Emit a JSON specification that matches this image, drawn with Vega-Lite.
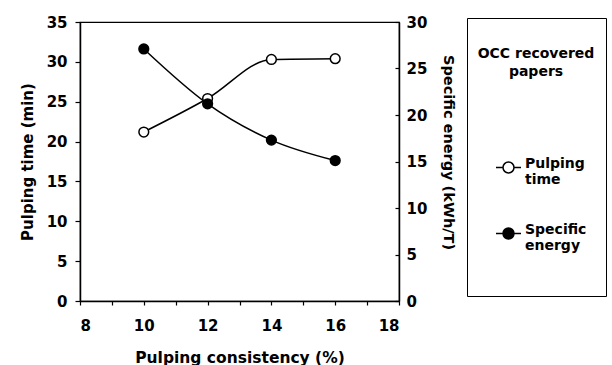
{
  "$schema": "https://vega.github.io/schema/vega-lite/v6.json",
  "width": 319,
  "height": 279,
  "autosize": "none",
  "padding": {"left": 80, "top": 22, "right": 213, "bottom": 64},
  "background": "white",
  "config": {
    "view": {"stroke": "black", "strokeWidth": 1.2},
    "font": "DejaVu Sans",
    "axis": {
      "grid": false,
      "domainColor": "black",
      "domainWidth": 1.5,
      "tickColor": "black",
      "tickWidth": 1.2,
      "labelColor": "black",
      "titleColor": "black",
      "labelFont": "DejaVu Sans",
      "titleFont": "DejaVu Sans",
      "labelFontWeight": "bold",
      "titleFontWeight": "bold",
      "labelFontSize": 15,
      "titleFontSize": 15
    }
  },
  "data": {
    "values": [
      {"consistency": 10, "time": 21.2, "energy": 27.1},
      {"consistency": 12, "time": 25.4, "energy": 21.2},
      {"consistency": 14, "time": 30.3, "energy": 17.3},
      {"consistency": 16, "time": 30.4, "energy": 15.1}
    ]
  },
  "encoding": {
    "x": {
      "field": "consistency",
      "type": "quantitative",
      "scale": {"domain": [8, 18], "nice": false, "zero": false},
      "axis": {
        "title": "Pulping consistency (%)",
        "titleFontSize": 15.5,
        "values": [8, 9, 10, 11, 12, 13, 14, 15, 16, 17, 18],
        "labelExpr": "datum.value % 2 == 0 ? datum.label : ''",
        "tickSize": 4,
        "labelPadding": 13,
        "titlePadding": 17
      }
    }
  },
  "layer": [
    {
      "encoding": {
        "y": {
          "field": "time",
          "type": "quantitative",
          "scale": {"domain": [0, 35], "nice": false},
          "axis": {
            "orient": "left",
            "title": "Pulping time (min)",
            "values": [0, 5, 10, 15, 20, 25, 30, 35],
            "tickSize": 5,
            "labelPadding": 8,
            "titlePadding": 11
          }
        }
      },
      "layer": [
        {"mark": {"type": "line", "color": "black", "strokeWidth": 1.5, "interpolate": "monotone"}},
        {
          "mark": {"type": "point", "shape": "circle", "filled": true, "stroke": "black", "strokeWidth": 1.5, "size": 95, "opacity": 1},
          "encoding": {
            "fill": {
              "datum": "Pulping time",
              "type": "nominal",
              "scale": {"domain": ["Pulping time", "Specific energy"], "range": ["white", "black"]},
              "legend": {
                "orient": "none",
                "legendX": 387,
                "legendY": -4,
                "title": ["", "OCC recovered", "papers"],
                "titleFont": "DejaVu Sans",
                "titleFontSize": 14,
                "titleFontWeight": "bold",
                "titleColor": "black",
                "titleAnchor": "middle",
                "titleAlign": "center",
                "titleLineHeight": 18,
                "titlePadding": 75,
                "padding": 11,
                "strokeColor": "black",
                "fillColor": "white",
                "labelFont": "DejaVu Sans",
                "labelFontSize": 14,
                "labelFontWeight": "bold",
                "labelColor": "black",
                "labelBaseline": "alphabetic",
                "labelOffset": 3,
                "labelExpr": "datum.label == 'Pulping time' ? ['Pulping', 'time', '', ''] : ['Specific', 'energy', '', '']",
                "symbolType": "M-1,0H-0.44M0.44,0H1M0.44,0A0.44,0.44,0,1,1,-0.44,0A0.44,0.44,0,1,1,0.44,0Z",
                "symbolSize": 625,
                "symbolStrokeColor": "black",
                "symbolStrokeWidth": 1.5,
                "symbolOffset": 9,
                "rowPadding": 1
              }
            }
          }
        }
      ]
    },
    {
      "encoding": {
        "y": {
          "field": "energy",
          "type": "quantitative",
          "scale": {"domain": [0, 30], "nice": false},
          "axis": {
            "orient": "right",
            "title": "Specific energy (kWh/T)",
            "titleFontSize": 14.5,
            "titleY": 130,
            "values": [0, 5, 10, 15, 20, 25, 30],
            "tickSize": -4,
            "labelPadding": 11,
            "titlePadding": 14
          }
        }
      },
      "layer": [
        {"mark": {"type": "line", "color": "black", "strokeWidth": 1.5, "interpolate": "monotone"}},
        {
          "mark": {"type": "point", "shape": "circle", "filled": true, "stroke": "black", "strokeWidth": 1.5, "size": 95, "opacity": 1},
          "encoding": {
            "fill": {"datum": "Specific energy", "type": "nominal"}
          }
        }
      ]
    }
  ],
  "resolve": {"scale": {"y": "independent"}}
}
